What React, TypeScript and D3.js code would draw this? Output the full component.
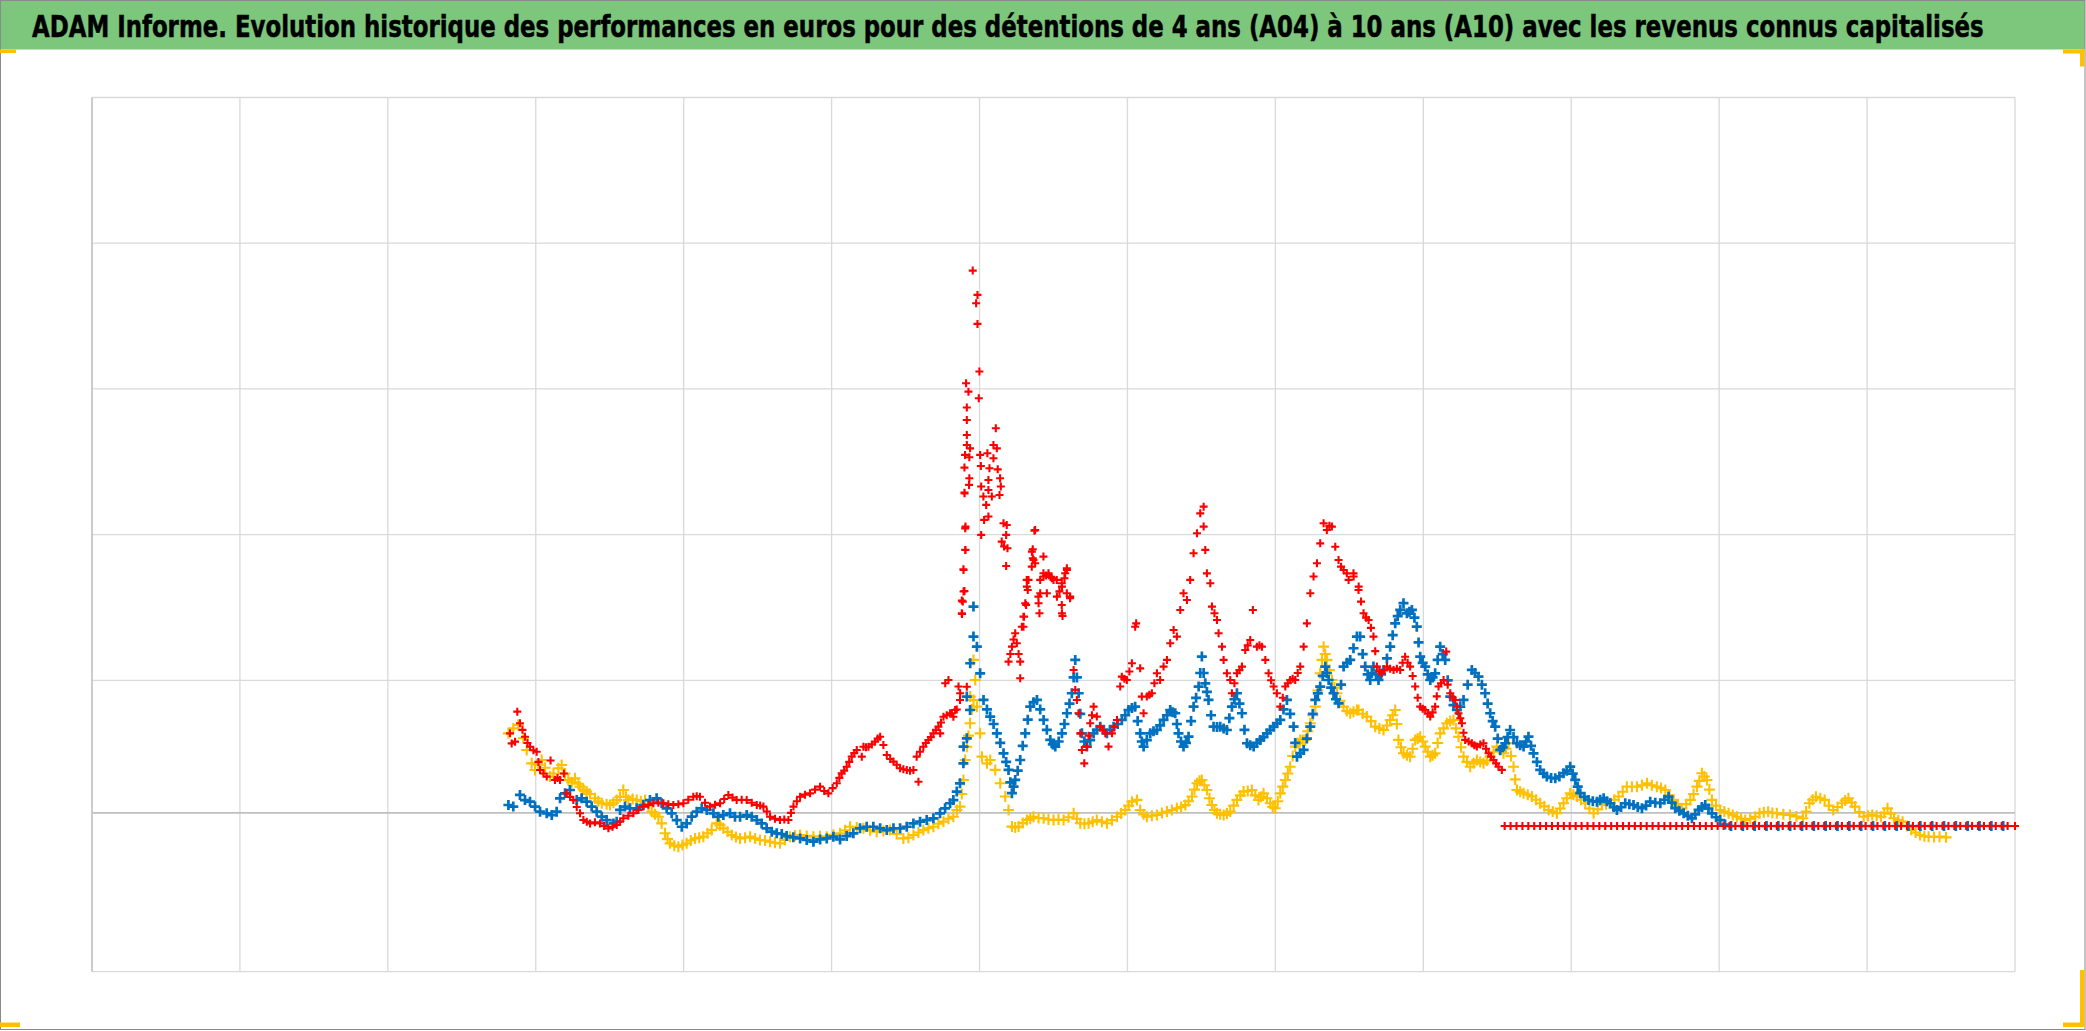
import React, { useLayoutEffect, useRef, useState } from 'react';
import * as d3 from 'd3';

const W = 2086;
const H = 1031;
const TITLE = 'ADAM Informe. Evolution historique des performances en euros pour des détentions de 4 ans (A04) à 10 ans (A10) avec les revenus connus capitalisés';

// x: years since start of axis (one vertical gridline per year), y: performance (%)
const X_GRID = [0, 1, 2, 3, 4, 5, 6, 7, 8, 9, 10, 11, 12, 13];
const Y_GRID = [-100, 100, 200, 300, 400, 500];
const AXIS_CROSS = 9;

const A10_YELLOW: [number, number][] = [
  [2.815,63.6],[2.848,67.0],[2.882,69.3],[2.916,60.2],[2.939,52.2],[2.972,43.0],[2.995,38.4],[3.018,42.0],[3.040,45.3],[3.063,40.0],[3.096,33.9],[3.120,36.0],[3.153,39.6],[3.175,41.9],[3.198,36.0],[3.220,31.6],[3.243,30.0],[3.265,32.7],[3.288,29.0],[3.299,27.0],[3.322,25.0],[3.344,23.6],[3.367,22.0],[3.400,19.0],[3.423,17.0],[3.446,15.6],[3.479,15.0],[3.502,14.4],[3.525,16.0],[3.547,17.8],[3.570,20.0],[3.592,24.7],[3.610,20.0],[3.626,17.8],[3.655,18.5],[3.682,17.8],[3.710,17.0],[3.739,17.8],[3.762,14.0],[3.784,9.8],[3.806,8.0],[3.829,6.4],[3.851,1.8],[3.874,-5.0],[3.891,-9.0],[3.908,-11.9],[3.936,-13.5],[3.964,-14.2],[3.992,-13.0],[4.020,-11.9],[4.048,-10.0],[4.077,-8.5],[4.105,-8.0],[4.133,-7.3],[4.161,-5.0],[4.189,-2.8],[4.223,1.8],[4.246,0.5],[4.268,-1.6],[4.297,-4.0],[4.325,-6.2],[4.353,-7.5],[4.381,-8.5],[4.415,-8.0],[4.449,-7.3],[4.483,-8.5],[4.516,-9.6],[4.550,-10.0],[4.584,-10.8],[4.617,-11.5],[4.651,-11.9],[4.685,-9.5],[4.719,-7.3],[4.753,-6.5],[4.787,-6.2],[4.832,-6.8],[4.877,-7.3],[4.922,-7.0],[4.967,-7.3],[5.012,-6.0],[5.057,-5.0],[5.091,-3.0],[5.125,-0.5],[5.170,-1.0],[5.215,-1.6],[5.260,-3.0],[5.305,-3.9],[5.350,-3.5],[5.395,-2.8],[5.440,-5.5],[5.485,-8.5],[5.519,-8.0],[5.553,-6.2],[5.587,-4.5],[5.620,-2.8],[5.654,-1.5],[5.688,-0.5],[5.722,1.5],[5.756,3.0],[5.790,5.0],[5.823,6.4],[5.847,11.0],[5.868,13.3],[5.880,22.0],[5.891,31.6],[5.903,45.3],[5.914,54.4],[5.925,62.0],[5.936,70.5],[5.948,80.0],[5.959,86.5],
  [5.937,88.8],[5.959,114],[5.971,100.2],[5.982,81.9],[6.004,63.6],[6.016,47.6],[6.050,43],[6.072,45.3],[6.106,38.5],[6.140,29.3],[6.174,20.2],[6.196,11],[6.219,-0.4],[6.241,-1.0],[6.264,-0.4],[6.292,2.0],[6.320,4.1],[6.343,5.0],[6.365,6.4],[6.399,5.5],[6.433,5.3],[6.466,4.5],[6.500,4.1],[6.534,4.5],[6.568,4.1],[6.602,6.0],[6.636,8.7],[6.658,5.0],[6.681,1.9],[6.709,1.5],[6.737,1.9],[6.765,3.0],[6.793,4.1],[6.827,3.0],[6.861,1.9],[6.895,4.0],[6.929,6.4],[6.957,8.5],[6.985,11],[7.008,14.0],[7.030,16.7],[7.064,17.9],[7.086,11],[7.109,8.0],[7.131,6.4],[7.165,7.0],[7.199,7.6],[7.233,9.0],[7.267,9.9],[7.300,11.0],[7.334,12.2],[7.363,13.0],[7.391,14.4],[7.413,17.0],[7.436,20.2],[7.453,25.0],[7.470,29.3],[7.487,31.0],[7.503,31.6],[7.520,28.0],[7.537,24.7],[7.554,19.0],[7.571,14.4],[7.588,11.0],[7.605,8.7],[7.627,8.0],[7.650,7.6],[7.672,8.5],[7.695,9.9],[7.718,14.0],[7.740,17.9],[7.763,21.0],[7.785,23.6],[7.813,24.0],[7.841,24.7],[7.864,21.0],[7.886,17.9],[7.903,20.0],[7.920,22.4],[7.943,19.0],[7.965,15.6],[7.982,13.0],[7.999,12.2],[8.016,17.0],[8.033,22.4],[8.050,27.0],[8.067,31.6],[8.084,36.0],[8.100,40.7],[8.117,48.0],[8.134,54.5],[8.151,57.0],[8.168,59.1],[8.185,59.0],[8.202,59.1],[8.219,65.0],[8.236,70.5],[8.253,76.0],[8.270,81.9],[8.287,93.0],[8.303,104.8],[8.315,114.0],[8.326,123.1],[8.337,118.0],[8.348,114],[8.365,107.0],[8.382,100.2],[8.399,95.0],[8.416,91.1],[8.438,86.0],[8.461,81.9],[8.483,79.0],[8.506,77.4],[8.528,78.5],[8.551,79.6],
  [8.562,79.6],[8.590,77.0],[8.618,75.1],[8.647,72.0],[8.675,68.2],[8.703,67.0],[8.731,65.9],[8.754,69.0],[8.776,72.8],[8.793,76.0],[8.810,79.6],[8.821,70.0],[8.832,59.1],[8.849,54.0],[8.866,49.9],[8.889,48.5],[8.911,47.6],[8.928,53.0],[8.945,59.1],[8.962,60.0],[8.979,61.3],[8.996,58.0],[9.013,54.5],[9.030,51.0],[9.047,47.6],[9.063,48.5],[9.080,49.9],[9.097,57.0],[9.114,63.6],[9.137,67.0],[9.159,70.5],[9.182,72.0],[9.204,72.8],[9.221,67.0],[9.238,61.3],[9.255,54.0],[9.272,47.6],[9.295,44.0],[9.317,40.7],[9.340,43.0],[9.362,45.3],[9.385,44.0],[9.407,43],[9.430,45.0],[9.452,47.6],[9.475,51.0],[9.497,54.5],[9.520,52.0],[9.542,49.9],[9.559,53.0],[9.576,56.8],[9.593,48.0],[9.610,40.7],[9.621,32.0],[9.633,24.7],[9.655,23.5],[9.678,22.5],[9.706,21.5],[9.734,20.2],[9.762,18.0],[9.790,15.6],[9.818,13.5],[9.847,11],[9.875,10.0],[9.903,8.7],[9.925,12.0],[9.948,15.6],[9.970,19.0],[9.993,22.5],[10.015,21.5],[10.038,20.2],[10.066,18.0],[10.095,15.6],[10.123,12.0],[10.151,8.7],[10.179,11.5],[10.207,14.4],[10.236,15.0],[10.264,15.6],[10.292,18.0],[10.320,20.2],[10.348,23.5],[10.376,27],[10.410,27.0],[10.444,27],[10.478,28.0],[10.512,29.3],[10.545,28.0],[10.579,27],[10.607,26.0],[10.636,24.7],[10.664,21.0],[10.692,17.9],[10.720,15.0],[10.748,12.2],[10.777,15.0],[10.805,17.9],[10.827,22.0],[10.850,27],[10.866,31.0],[10.883,36.2],[10.900,34.0],[10.917,31.6],[10.934,25.0],[10.951,17.9],[10.979,14.0],[11.007,11],[11.035,10.0],[11.064,8.7],[11.092,7.5],[11.120,6.4],[11.148,5.0],[11.176,4.1],[11.210,5.0],[11.244,6.4],
  [11.273,8.7],[11.302,9.5],[11.331,9.8],[11.360,9.0],[11.390,8.7],[11.434,8.0],[11.478,7.6],[11.522,6.5],[11.566,5.3],[11.588,10.0],[11.610,15.6],[11.632,18.0],[11.654,20.1],[11.684,19.0],[11.713,17.9],[11.742,14.0],[11.771,11],[11.800,13.0],[11.830,15.6],[11.852,17.5],[11.874,19],[11.896,16.0],[11.918,13.3],[11.948,9.5],[11.977,6.4],[12.006,7.0],[12.035,7.6],[12.065,7.0],[12.094,6.4],[12.116,9.0],[12.138,12.1],[12.160,8.5],[12.182,5.3],[12.211,4.0],[12.240,3],[12.270,0.0],[12.299,-2.7],[12.328,-4.5],[12.358,-6.2],[12.387,-7.0],[12.416,-7.3],[12.453,-7.5],[12.490,-7.3],[12.534,-7.8]
];

const A07_BLUE: [number, number][] = [
  [2.815,14.4],[2.848,13.3],[2.893,21.3],[2.927,17.8],[2.961,16.7],[2.995,13.3],[3.029,9.8],[3.074,8.7],[3.108,7.5],[3.141,9.8],[3.164,19.0],[3.198,22.4],[3.231,24.7],[3.277,17.8],[3.310,19.0],[3.344,16.7],[3.378,13.3],[3.412,9.8],[3.446,6.4],[3.479,4.1],[3.525,1.8],[3.547,3.0],[3.570,11.0],[3.603,13.3],[3.637,12.1],[3.682,12.1],[3.727,14.4],[3.772,17.8],[3.817,19.0],[3.851,15.6],[3.885,12.1],[3.919,8.7],[3.953,4.1],[3.987,-0.5],[4.020,1.8],[4.054,6.4],[4.088,9.8],[4.122,12.1],[4.156,11.0],[4.201,8.7],[4.234,6.4],[4.268,7.5],[4.313,8.7],[4.347,6.4],[4.381,6.4],[4.426,7.5],[4.460,6.4],[4.494,4.1],[4.527,1.8],[4.561,-1.6],[4.595,-3.9],[4.629,-5.0],[4.663,-5.5],[4.696,-6.9],[4.741,-7.8],[4.787,-8.5],[4.832,-9.6],[4.877,-10.8],[4.922,-9.2],[4.967,-8.5],[5.012,-7.3],[5.057,-9.2],[5.102,-6.9],[5.147,-5.0],[5.192,-1.6],[5.237,-0.5],[5.282,-0.5],[5.328,-1.6],[5.373,-2.8],[5.418,-1.6],[5.463,-1.6],[5.508,-0.5],[5.553,1.8],[5.598,3.0],[5.643,4.1],[5.688,5.3],[5.733,8.7],[5.767,12.1],[5.801,15.6],[5.823,17.8],[5.846,23.6],[5.868,29.3],[5.891,43.0],[5.914,60.2],
  [5.936,79.6],[5.892,54.5],[5.914,88.8],[5.937,111.7],[5.959,130],[5.959,150.6],[5.982,123.1],[6.004,104.8],[6.027,86.5],[6.050,80.0],[6.072,75.1],[6.095,70.0],[6.117,63.6],[6.140,57.0],[6.162,49.9],[6.180,44.0],[6.196,38.5],[6.208,30.0],[6.219,22.5],[6.230,27.0],[6.241,31.6],[6.258,38.0],[6.275,45.3],[6.292,55.0],[6.309,63.6],[6.326,73.0],[6.343,81.9],[6.365,85.0],[6.388,86.5],[6.410,80.0],[6.433,72.8],[6.455,66.0],[6.478,59.1],[6.495,56.0],[6.512,54.5],[6.535,58.0],[6.557,63.6],[6.574,70.0],[6.591,77.4],[6.608,84.0],[6.624,91.1],[6.636,102.0],[6.647,114],[6.658,102.0],[6.670,91.1],[6.681,77.0],[6.692,63.6],[6.709,58.0],[6.726,54.5],[6.748,59.0],[6.771,63.6],[6.793,66.0],[6.816,68.2],[6.838,66.0],[6.861,63.6],[6.884,66.0],[6.906,68.2],[6.934,70.0],[6.962,72.8],[6.985,76.0],[7.007,79.6],[7.030,81.0],[7.052,81.9],[7.069,72.0],[7.086,63.6],[7.097,58.0],[7.109,54.5],[7.131,59.0],[7.154,63.6],[7.176,65.0],[7.199,65.9],[7.221,69.0],[7.244,72.8],[7.267,76.0],[7.289,79.6],[7.306,78.0],[7.323,77.4],[7.334,70.0],[7.345,63.6],[7.362,58.0],[7.379,54.5],[7.396,57.0],[7.413,61.3],[7.430,72.0],[7.447,81.9],[7.464,88.0],[7.481,95.7],[7.492,105.0],[7.503,116.3],[7.515,105.0],[7.526,97.9],[7.537,92.0],[7.548,86.5],[7.565,76.0],[7.582,68.2],[7.605,68.0],[7.627,68.2],[7.650,67.0],[7.672,65.9],[7.689,74.0],[7.706,81.9],[7.723,87.0],[7.740,91.1],[7.757,84.0],[7.774,77.4],[7.791,66.0],[7.808,56.8],[7.830,55.5],[7.853,54.5],[7.875,57.0],[7.898,59.1],[7.920,61.0],[7.943,63.6],[7.965,66.0],[7.988,68.2],[8.010,70.5],[8.033,72.8],[8.055,80.0],[8.078,86.5],[8.100,77.0],[8.123,68.2],[8.134,57.0],[8.146,47.6],[8.168,50.0],[8.191,52.2],[8.213,60.0],[8.236,68.2],[8.253,77.0],[8.270,86.5],[8.287,91.0],[8.303,95.7],[8.320,103.0],[8.337,109.4],[8.348,105.0],[8.360,100.2],[8.377,95.0],[8.393,91.1],[8.410,87.0],[8.427,84.2],[8.444,97.0],[8.461,109.4],[8.484,112.0],[8.506,114],[8.528,122.0],[8.551,130],
  [8.573,130],[8.590,118.0],[8.607,109.4],[8.624,104.0],[8.641,100.2],[8.652,105.0],[8.663,109.4],[8.680,104.0],[8.697,100.2],[8.714,104.0],[8.731,107.1],[8.754,115.0],[8.776,123.1],[8.793,131.0],[8.810,139.1],[8.827,144.0],[8.844,148.3],[8.866,152.9],[8.889,146],[8.906,147.0],[8.923,148.3],[8.940,143.0],[8.956,136.8],[8.968,126.0],[8.979,116.2],[8.996,112.0],[9.013,109.4],[9.030,104.0],[9.047,100.2],[9.063,102.0],[9.080,104.8],[9.097,114.0],[9.114,123.1],[9.131,118.0],[9.148,114],[9.165,100.0],[9.182,88.8],[9.204,83.0],[9.227,79.6],[9.250,82.0],[9.272,86.5],[9.300,97.0],[9.328,107.1],[9.350,105.0],[9.373,102.5],[9.396,97.0],[9.418,91.1],[9.435,84.0],[9.452,77.4],[9.469,72.0],[9.486,68.2],[9.503,60.0],[9.520,52.2],[9.537,54.0],[9.554,56.8],[9.570,61.0],[9.587,65.9],[9.610,61.0],[9.633,56.8],[9.655,55.5],[9.678,54.5],[9.695,58.0],[9.711,61.3],[9.728,55.0],[9.745,49.9],[9.768,44.0],[9.790,38.5],[9.812,36.0],[9.835,33.9],[9.864,33.0],[9.892,32.7],[9.920,34.0],[9.948,36.2],[9.970,38.0],[9.993,40.7],[10.010,36.0],[10.027,31.6],[10.044,27.0],[10.061,22.5],[10.089,20.0],[10.117,17.9],[10.146,17.0],[10.174,16.7],[10.196,18.0],[10.219,19],[10.241,17.0],[10.264,15.6],[10.287,13.0],[10.309,11],[10.337,13.0],[10.365,15.6],[10.393,15.0],[10.421,14.4],[10.450,13.0],[10.478,12.2],[10.506,14.0],[10.534,16.7],[10.568,16.0],[10.602,15.6],[10.630,18.0],[10.658,20.2],[10.680,16.0],[10.703,12.2],[10.731,10.5],[10.760,8.7],[10.788,7.0],[10.816,5.3],[10.838,8.0],[10.861,11],[10.883,13.0],[10.906,14.4],[10.928,12.0],[10.951,8.7],[10.979,6.0],[11.007,4.1],[11.040,1.0],
  [11.08,0],[11.16,0],[11.24,0],[11.32,0],[11.40,0],[11.48,0],[11.56,0],[11.64,0],[11.72,0],[11.80,0],[11.88,0],[11.96,0],[12.04,0],[12.12,0],[12.20,0],[12.28,0],[12.36,0],[12.44,0],[12.52,0],[12.60,0],[12.68,0],[12.76,0],[12.84,0],[12.92,0]
];

const A04_RED: [number, number][] = [
  [2.826,63.6],[2.837,56.7],[2.860,57.9],[2.875,78.5],[2.893,70.5],[2.910,66.0],[2.927,61.3],[2.944,57.0],[2.961,54.4],[2.984,52.0],[3.006,51],[3.018,44.0],[3.029,38.4],[3.052,36.0],[3.074,33.9],[3.100,45.0],[3.130,31.6],[3.147,33.0],[3.164,31.6],[3.190,36.0],[3.209,22.4],[3.232,20.0],[3.254,17.8],[3.277,13.0],[3.299,8.7],[3.322,4.1],[3.345,3.0],[3.367,1.8],[3.400,2.5],[3.434,1.8],[3.462,0.0],[3.491,-1.6],[3.519,-0.5],[3.547,0.7],[3.570,3.0],[3.592,5.3],[3.626,7.0],[3.660,8.7],[3.694,11.0],[3.727,13.3],[3.761,14.5],[3.795,15.6],[3.829,16.0],[3.863,15.6],[3.896,15.0],[3.930,14.4],[3.964,15.0],[3.998,15.6],[4.031,18.0],[4.065,20.1],[4.088,20.5],[4.110,20.1],[4.144,16.0],[4.178,13.3],[4.212,14.5],[4.246,15.6],[4.274,18.5],[4.302,21.3],[4.330,19.5],[4.358,17.8],[4.392,18.0],[4.426,17.8],[4.460,16.0],[4.494,14.4],[4.517,14.0],[4.539,13.3],[4.562,10.0],[4.584,6.4],[4.617,5.0],[4.651,4.1],[4.680,4.5],[4.708,4.1],[4.725,9.0],[4.742,13.3],[4.765,17.0],[4.787,20.1],[4.820,21.5],[4.854,22.4],[4.888,25.0],[4.922,27],[4.950,24.0],[4.978,22.4],[5.007,26.0],[5.035,29.3],[5.052,33.0],[5.068,36.1],[5.085,38.0],[5.102,40.7],[5.119,44.0],[5.136,47.6],[5.153,50.0],[5.170,52.2],[5.204,47.6],[5.215,54.4],[5.232,54.0],[5.249,54.4],[5.272,56.0],[5.294,57.9],[5.311,60.0],[5.328,61.3],[5.350,55.6],[5.373,48.7],[5.396,46.0],[5.418,44.2],[5.440,42.0],[5.463,39.6],[5.485,39.0],[5.508,38.4],[5.530,38.0],[5.553,38.4],[5.587,30.4],[5.575,47.6],[5.597,51.0],[5.620,54.4],[5.637,57.0],[5.654,59],[5.671,61.0],[5.688,63.6],[5.705,66.0],[5.722,68.2],[5.739,71.0],[5.756,75],[5.778,76.0],[5.801,77.3],[5.823,75],[5.846,80.0],[5.868,86.5],[5.914,95.6],
  [5.734,63.6],[5.768,98],[5.790,100.2],[5.813,77.4],[5.835,79.6],[5.858,95.7],[5.869,91.1],[5.880,146],[5.887,154],[5.892,160.9],[5.892,175.7],[5.903,189.5],[5.903,204.3],[5.899,228.3],
  [5.954,381.2],[5.986,364.5],[5.977,358.8],[5.986,344.6],[5.999,311.9],[5.909,303.9],[5.925,298.1],[5.995,293.6],[5.914,287.2],[5.914,278.7],[5.914,268.4],[5.914,261.5],[5.936,259.2],[5.902,254.7],[5.931,253.1],[5.898,246],[5.931,238.7],[5.929,234.1],[5.898,228.8],[5.905,205.5],[5.905,189.5],[5.891,176.2],[5.898,161.3],[5.880,154.7],[5.882,145.5],
  [6.004,254.7],[6.009,247.1],[6.011,233],[6.026,226.1],[6.045,220.4],[6.031,210.1],[6.060,212.4],[6.011,199.8],[6.053,255.8],[6.067,245.5],[6.060,237.5],[6.060,230.6],[6.083,226.1],[6.094,261.5],[6.110,273],[6.117,259.2],[6.094,252.4],[6.123,244.8],[6.139,238.7],[6.144,233],[6.135,227.2],[6.162,207.8],[6.184,206.6],[6.180,199.8],[6.150,195.2],[6.166,191.8],[6.189,190.6],[6.180,178.5],
  [6.371,202.7],[6.360,189.9],[6.360,183.8],[6.432,184.9],[6.353,178],[6.376,180.3],[6.319,168.9],[6.326,162],[6.315,151.7],[6.301,143.7],[6.297,136.8],[6.410,168.9],[6.432,173.5],[6.466,173.5],[6.489,170],[6.522,168.9],[6.556,166.6],[6.579,173.5],[6.590,176.9],[6.590,159.7],[6.612,156.3],[6.398,157.4],[6.405,146],[6.455,159.7],[6.556,151.7],[6.561,144.2],[7.059,139.1],
  [6.196,112.8],[6.208,118.0],[6.219,123.1],[6.230,128.0],[6.241,132.3],[6.252,125.4],[6.264,118.0],[6.275,112.8],[6.275,101.4],[6.286,136.8],[6.297,143.7],[6.309,152.9],[6.320,164.3],[6.331,168.9],[6.354,188.3],[6.365,182.6],[6.376,203.2],[6.399,152.9],[6.410,159.7],[6.433,171.2],[6.450,172.0],[6.467,173.4],[6.484,171.0],[6.500,168.9],[6.523,157.4],[6.540,161.0],[6.557,164.3],[6.557,146],[6.574,170.0],[6.591,175.7],[6.613,157.4],
  [6.636,107.1],[6.647,93.4],[6.658,86.5],[6.669,77.4],[6.681,63.6],[6.692,52.2],[6.708,43],[6.726,54.5],[6.737,62.0],[6.748,70.5],[6.760,76.0],[6.771,81.9],[6.793,75.1],[6.816,68.2],[6.833,66.0],[6.850,63.6],[6.872,54.5],[6.895,63.6],[6.912,68.0],[6.929,72.8],[6.951,95.7],[6.962,102.5],[6.979,101.0],[6.996,100.2],[7.013,106.0],[7.030,111.7],[7.052,136.8],[7.086,108.2],[7.097,88.8],[7.109,77.4],[7.131,88.8],[7.148,90.0],[7.165,91.1],[7.182,98.0],[7.199,104.8],[7.221,100.2],[7.244,109.4],[7.267,114],[7.289,125.4],[7.312,134.5],[7.334,130],[7.357,148.3],[7.379,159.7],[7.402,155.1],[7.424,168.9],[7.447,187.2],[7.470,200.9],[7.492,214.6],[7.515,219.2],[7.515,205.5],[7.526,189.5],[7.537,173.4],[7.560,166.6],[7.571,150.6],[7.588,146.0],[7.605,141.4],[7.616,132.3],[7.639,123.1],[7.650,114],[7.672,104.8],[7.695,100.2],[7.706,91.1],[7.723,98.0],[7.740,104.8],[7.757,107.0],[7.774,109.4],[7.796,120.8],[7.813,124.0],[7.830,127.7],[7.848,148.3],[7.875,123.1],[7.892,124.0],[7.909,123.1],[7.932,114],[7.954,104.8],[7.971,100.0],[7.988,95.7],[8.010,91.1],[8.033,81.9],[8.050,88.0],[8.067,95.7],[8.084,98.0],[8.100,100.2],[8.117,101.0],[8.134,100.2],[8.151,105.0],[8.168,109.4],[8.191,123.1],[8.213,139.1],[8.236,159.7],[8.258,171.2],[8.281,180.3],[8.303,194],[8.326,207.8],[8.348,203.2],[8.365,206.0],[8.382,205.5],[8.405,191.7],[8.427,182.6],[8.444,178.0],[8.461,175.7],[8.483,173.4],[8.495,168.9],[8.528,173.4],[8.529,171.2],[8.562,162],[8.563,164.3],
  [8.579,154.0],[8.596,146],[8.613,143.0],[8.630,141.4],[8.646,136.0],[8.663,130],[8.675,120.0],[8.686,109.4],[8.703,106.0],[8.720,104.8],[8.737,107.0],[8.754,109.4],[8.776,108.0],[8.799,107.1],[8.821,108.0],[8.844,107.1],[8.860,112.0],[8.877,116.2],[8.894,112.0],[8.911,109.4],[8.928,103.0],[8.945,95.7],[8.962,88.0],[8.979,81.9],[8.996,80.5],[9.013,79.6],[9.030,77.0],[9.047,75.1],[9.063,78.0],[9.080,81.9],[9.091,89.0],[9.103,95.7],[9.120,98.0],[9.137,100.2],[9.155,119.7],[9.165,97.0],[9.182,91.1],[9.199,88.0],[9.216,86.5],[9.227,82.0],[9.238,77.4],[9.250,74.0],[9.261,70.5],[9.272,64.0],[9.283,59.1],[9.306,58.0],[9.328,56.8],[9.345,55.5],[9.362,54.5],[9.385,56.0],[9.407,56.8],[9.424,53.0],[9.441,49.9],[9.458,47.5],[9.475,45.3],[9.492,43.0],[9.508,40.7],[9.531,38.5]
];

const A04_RED_ZERO_DATES = [
  9.55, 9.59, 9.63, 9.67, 9.71, 9.75, 9.79, 9.83, 9.87, 9.91, 9.95, 9.99, 10.03, 10.07, 10.11, 10.15, 10.19, 10.23, 10.27, 10.31, 10.35, 10.39, 10.43, 10.47, 10.51, 10.55, 10.59, 10.63, 10.67, 10.71, 10.75, 10.79, 10.83, 10.87, 10.91, 10.95, 10.99, 11.03, 11.07, 11.11, 11.15, 11.19, 11.23, 11.27, 11.31, 11.35, 11.39, 11.43, 11.47, 11.51, 11.55, 11.59, 11.63, 11.67, 11.71, 11.75, 11.79, 11.83, 11.87, 11.91, 11.95, 11.99, 12.03, 12.07, 12.11, 12.15, 12.19, 12.23, 12.27, 12.31, 12.35, 12.39, 12.43, 12.47, 12.51, 12.55, 12.59, 12.63, 12.67, 12.71, 12.75, 12.79, 12.83, 12.87, 12.91, 12.95, 13.0
];
const A04_RED_ZERO_VALUE = 0;

const xScale = d3.scaleLinear().domain([0, 13]).range([92, 2015]);
const yScale = d3.scaleLinear().domain([-100, 500]).range([971.7, 97.5]);

function crossPath(points: [number, number][], s: number): string {
  const parts: string[] = [];
  for (const [xv, yv] of points) {
    const px = xScale(xv);
    const py = yScale(yv);
    parts.push(`M${(px - s).toFixed(2)},${py.toFixed(2)}H${(px + s).toFixed(2)}M${px.toFixed(2)},${(py - s).toFixed(2)}V${(py + s).toFixed(2)}`);
  }
  return parts.join('');
}

const TITLE_X = 32;
const TITLE_WIDTH = 1952;

export default function App() {
  const titleRef = useRef<SVGTextElement | null>(null);
  const [sx, setSx] = useState(0.8);
  useLayoutEffect(() => {
    if (titleRef.current) {
      const natural = titleRef.current.getComputedTextLength();
      if (natural > 0) setSx(TITLE_WIDTH / natural);
    }
  }, []);

  const redAll: [number, number][] = A04_RED.concat(
    A04_RED_ZERO_DATES.map((d) => [d, A04_RED_ZERO_VALUE] as [number, number])
  );
  const series = [
    { name: 'A10', data: A10_YELLOW, color: '#FFC000', s: 5.5, w: 2.1 },
    { name: 'A07', data: A07_BLUE, color: '#0070C0', s: 5, w: 2.7 },
    { name: 'A04', data: redAll, color: '#FF0000', s: 4, w: 2.1 },
  ];
  const x0 = xScale(0);
  const x1 = xScale(13);
  return (
    <svg width={W} height={H} style={{ position: 'absolute', left: 0, top: 0, background: '#ffffff' }}>
      <rect x={0} y={0} width={W} height={H} fill="#ffffff" />
      <rect x={0} y={0} width={2085} height={49.5} fill="#7CC77C" />
      <g transform={`translate(${TITLE_X},37) scale(${sx},1)`}>
        <text
          ref={titleRef}
          x={0}
          y={0}
          fontFamily="'Liberation Sans Narrow','DejaVu Sans Condensed','Arial Narrow',sans-serif"
          fontWeight="bold"
          fontSize={31}
          fill="#000000"
          stroke="#000000"
          strokeWidth={0.5}
        >
          {TITLE}
        </text>
      </g>
      {X_GRID.filter((g) => g > 0).map((g) => (
        <line key={'vx' + g} x1={xScale(g)} x2={xScale(g)} y1={yScale(500)} y2={yScale(-100)} stroke="#d9d9d9" strokeWidth={1.3} />
      ))}
      {Y_GRID.map((g) => (
        <line key={'hy' + g} x1={x0} x2={x1} y1={yScale(g)} y2={yScale(g)} stroke="#d9d9d9" strokeWidth={1.3} />
      ))}
      <line x1={x0} x2={x1} y1={yScale(AXIS_CROSS)} y2={yScale(AXIS_CROSS)} stroke="#bfbfbf" strokeWidth={1.6} />
      <line x1={x0} x2={x0} y1={yScale(500)} y2={yScale(-100)} stroke="#bfbfbf" strokeWidth={1.6} />
      {series.map((sr) => (
        <path key={sr.name} d={crossPath(sr.data, sr.s)} stroke={sr.color} strokeWidth={sr.w} fill="none" />
      ))}
      <rect x={0.5} y={0.5} width={2084.5} height={1029} fill="none" stroke="#8a8a8a" strokeWidth={1} />
      <rect x={0} y={49.5} width={16} height={3.5} fill="#FFC000" />
      <rect x={0} y={1022.5} width={20} height={4.5} fill="#FFC000" />
      <rect x={2063} y={49.5} width={21.5} height={4} fill="#FFC000" />
      <rect x={2080} y={49.5} width={4.5} height={17} fill="#FFC000" />
      <rect x={2080} y={970} width={4.5} height={57} fill="#FFC000" />
      <rect x={2063} y={1022.5} width={21.5} height={4.5} fill="#FFC000" />
    </svg>
  );
}
